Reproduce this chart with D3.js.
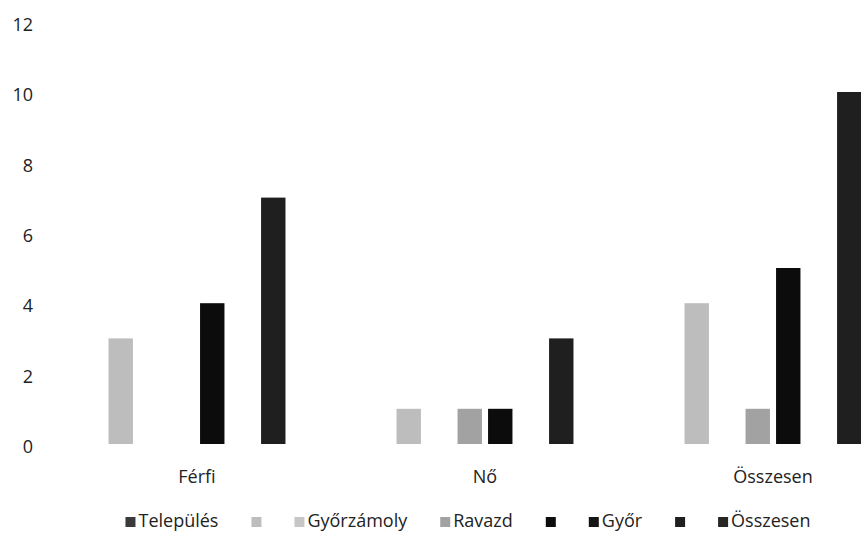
<!DOCTYPE html>
<html>
<head>
<meta charset="utf-8">
<script src="https://cdn.jsdelivr.net/npm/d3@7/dist/d3.min.js"></script>
<style>
  html, body { margin: 0; padding: 0; background: #fff; }
  svg { display: block; }
  text { font-family: "Open Sans", "DejaVu Sans", sans-serif; fill: #222; }
</style>
</head>
<body>
<svg id="chart" width="861" height="535"></svg>
<script>
const categories = ["Férfi", "Nő", "Összesen"];
const seriesNames = ["Település", "", "Győrzámoly", "Ravazd", "", "Győr", "", "Összesen"];
const seriesValues = [
  [0, 0, 0],
  [3, 1, 4],
  [0, 0, 0],
  [0, 1, 1],
  [4, 1, 5],
  [0, 0, 0],
  [7, 3, 10],
  [0, 0, 0]
];
const seriesColors = ["#3a3a3a", "#bdbdbd", "#c6c6c6", "#a2a2a2", "#0c0c0c", "#151515", "#1f1f1f", "#262626"];
const yTicks = [0, 2, 4, 6, 8, 10, 12];

const svg = d3.select("#chart");
const seriesIdx = d3.range(seriesNames.length);

const x0 = d3.scaleBand().domain(categories).range([53, 917]).paddingInner(0).paddingOuter(0);
const x1 = d3.scaleBand().domain(seriesIdx).range([0, x0.bandwidth()]).paddingInner(0.2).paddingOuter(0.82);
const y = d3.scaleLinear().domain([0, 12]).range([444, 21.6]);

// Y axis labels
const yAxis = d3.axisLeft(y).tickValues(yTicks).tickSize(0).tickPadding(0);
const gy = svg.append("g").attr("transform", "translate(33,0)").call(yAxis);
gy.select(".domain").remove();
gy.selectAll("text").style("font-size", "18px").style("font-family", "'Open Sans', sans-serif").attr("fill", "#222").attr("dy", "0.48em");

// Bars
const groups = svg.append("g").selectAll("g")
  .data(categories)
  .join("g")
  .attr("transform", d => `translate(${x0(d)},0)`);

groups.selectAll("rect")
  .data((d, ci) => seriesIdx.map(si => ({ si, v: seriesValues[si][ci] })).filter(e => e.v > 0))
  .join("rect")
  .attr("x", d => x1(d.si))
  .attr("width", x1.bandwidth())
  .attr("y", d => y(d.v))
  .attr("height", d => y(0) - y(d.v))
  .attr("fill", d => seriesColors[d.si]);

// X axis labels
const xAxis = d3.axisBottom(x0).tickSize(0).tickPadding(0);
const gx = svg.append("g").attr("transform", "translate(0,470)").call(xAxis);
gx.select(".domain").remove();
gx.selectAll("text").style("font-size", "18px").style("font-family", "'Open Sans', sans-serif").attr("fill", "#222").attr("dy", "0.71em");

// Legend
const legend = svg.append("g");
const items = legend.selectAll("g").data(seriesIdx).join("g");
items.append("rect").attr("width", 10).attr("height", 10).attr("y", -10)
  .attr("fill", d => seriesColors[d]);
items.append("text").attr("x", 13).attr("y", 0)
  .style("font-size", "18px").text(d => seriesNames[d]);
let cx = 0;
const positions = [];
items.each(function(d) {
  const w = 13 + (seriesNames[d] ? this.querySelector("text").getComputedTextLength() : -3);
  positions.push(cx);
  cx += w + 33;
});
const totalW = cx - 33;
const startX = 468 - totalW / 2;
items.attr("transform", (d, i) => `translate(${startX + positions[i]},527)`);
</script>
</body>
</html>
